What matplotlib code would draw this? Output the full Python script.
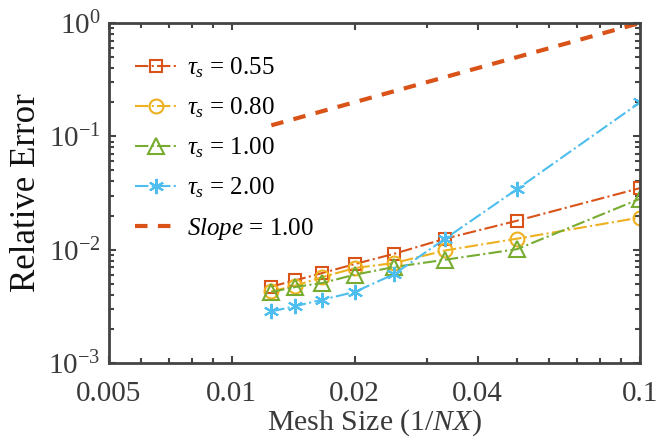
import numpy as np
import matplotlib
matplotlib.use("Agg")
import matplotlib.pyplot as plt
from matplotlib.ticker import FixedLocator, NullFormatter, LogLocator, LogFormatterSciNotation

plt.rcParams['font.family'] = ['Liberation Serif', 'DejaVu Serif']
plt.rcParams['mathtext.fontset'] = 'custom'
plt.rcParams['mathtext.rm'] = 'Liberation Serif'
plt.rcParams['mathtext.it'] = 'Liberation Serif:italic'
plt.rcParams['mathtext.bf'] = 'Liberation Serif:bold'

# mesh size 1/NX
nx = [80, 70, 60, 50, 40, 30, 20, 10]
mesh = [1.0 / n for n in nx]

err_055 = [0.00473, 0.00535, 0.00622, 0.00746, 0.00920, 0.0125, 0.0180, 0.0349]
err_080 = [0.00428, 0.00480, 0.00573, 0.00688, 0.00762, 0.00984, 0.0125, 0.0192]
err_100 = [0.00423, 0.00468, 0.00508, 0.00601, 0.00703, 0.00815, 0.0101, 0.0281]
err_200 = [0.00285, 0.00317, 0.00362, 0.00423, 0.00609, 0.0125, 0.0342, 0.199]

slope_x = [1.0 / 80, 1.0 / 10]
slope_y = [0.125, 1.0]

xtick_vals = [0.005, 0.01, 0.02, 0.04, 0.1]
xtick_text = ['0.005', '0.01', '0.02', '0.04', '0.1']

red = '#D95319'
yellow = '#EDB120'
green = '#77AC30'
blue = '#4DBEEE'
axcol = '#444444'

fig = plt.figure(figsize=(6.68, 4.43), dpi=100)
ax = fig.add_axes([0.163, 0.1806, 0.795, 0.7675])

ax.plot(mesh, err_055, '-.', color=red, lw=1.5, marker='s', ms=9, mfc='none', mew=1.5,
        label=r'$\tau_s$ = 0.55')
ax.plot(mesh, err_080, '-.', color=yellow, lw=1.5, marker='o', ms=10, mfc='none', mew=1.5,
        label=r'$\tau_s$ = 0.80')
ax.plot(mesh, err_100, '-.', color=green, lw=1.5, marker='^', ms=11, mfc='none', mew=1.5,
        label=r'$\tau_s$ = 1.00')
ax.plot(mesh, err_200, '-.', color=blue, lw=1.5, marker=(6, 2, 0), ms=11, mfc='none', mew=1.5,
        label=r'$\tau_s$ = 2.00')
ax.plot(slope_x, slope_y, '--', color=red, lw=3, dashes=(3, 2.5),
        label=r'$\mathit{Slope}$ = 1.00')

ax.set_xscale('log')
ax.set_yscale('log')
ax.set_xlim(0.005, 0.1)
ax.set_ylim(1e-3, 1)

allx = [k * 0.001 for k in range(5, 10)] + [k * 0.01 for k in range(1, 11)]
ax.xaxis.set_major_locator(FixedLocator(xtick_vals))
ax.xaxis.set_minor_locator(FixedLocator([v for v in allx if not any(abs(v - t) < 1e-9 for t in xtick_vals)]))
ax.set_xticklabels(xtick_text)
ax.xaxis.set_minor_formatter(NullFormatter())

ax.yaxis.set_major_locator(LogLocator(base=10, numticks=10))
ax.yaxis.set_minor_locator(LogLocator(base=10, subs=np.arange(2, 10), numticks=10))
ax.yaxis.set_major_formatter(LogFormatterSciNotation())
ax.yaxis.set_minor_formatter(NullFormatter())

ax.tick_params(which='both', direction='in', top=True, right=True, colors=axcol,
               labelsize=21, width=1.5)
ax.tick_params(which='major', length=5)
ax.tick_params(which='minor', length=3.5)
ax.tick_params(axis='x', which='both', pad=13)
ax.tick_params(axis='y', which='both', pad=6)
for lab in ax.get_xticklabels() + ax.get_yticklabels():
    lab.set_color('#3a3a3a')
for sp in ax.spines.values():
    sp.set_color(axcol)
    sp.set_linewidth(2)

ax.set_xlabel(r'Mesh Size (1/$\mathit{NX}$)', fontsize=21.5, color='#3a3a3a', labelpad=0)
ax.set_ylabel('Relative Error', fontsize=25, color='#111111', labelpad=4)

leg = ax.legend(loc='upper left', bbox_to_anchor=(0.049, 0.905), frameon=False, fontsize=18,
                handlelength=1.7, handletextpad=0.4, labelspacing=0.62,
                borderaxespad=0.0, borderpad=0.0)

fig.savefig('out.png', dpi=100)
